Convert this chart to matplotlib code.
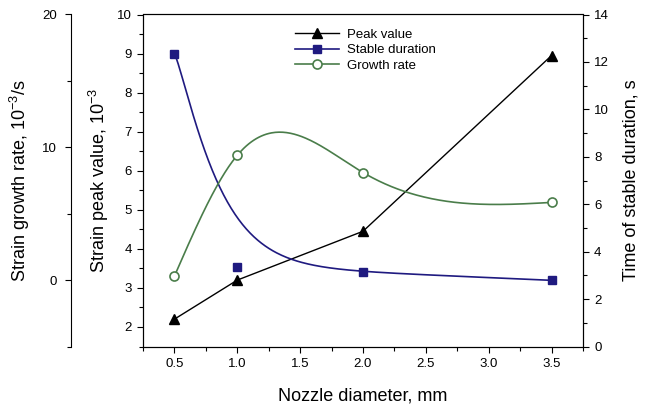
import numpy as np
import matplotlib
matplotlib.use("Agg")
from matplotlib import pyplot as plt
from matplotlib.ticker import MultipleLocator, FormatStrFormatter

plt.rcParams['font.family'] = ['Liberation Sans', 'DejaVu Sans']
plt.rcParams['mathtext.fontset'] = 'custom'
plt.rcParams['mathtext.rm'] = 'Liberation Sans'
plt.rcParams['mathtext.it'] = 'Liberation Sans:italic'
plt.rcParams['axes.linewidth'] = 0.8

# data
nozzle = np.array([0.5, 1.0, 2.0, 3.5])
peak_value = np.array([2.2, 3.2, 4.45, 8.95])        # 10^-3
stable_duration = np.array([12.35, 3.37, 3.16, 2.79])  # s
growth_rate = np.array([0.3, 9.4, 8.1, 5.85])         # 10^-3/s

# decay trend used for the stable duration curve
fit_c, fit_b, fit_a, fit_k, fit_p = 3.595, -0.23, 8.87, 3.34, 1.2

BLACK = 'black'
BLUE = '#1f1a80'
GREEN = '#4a7d4a'


def natural_spline(x, y, xs):
    n = len(x)
    h = np.diff(x)
    A = np.zeros((n, n))
    r = np.zeros(n)
    A[0, 0] = A[-1, -1] = 1
    for i in range(1, n - 1):
        A[i, i - 1] = h[i - 1]
        A[i, i] = 2 * (h[i - 1] + h[i])
        A[i, i + 1] = h[i]
        r[i] = 3 * ((y[i + 1] - y[i]) / h[i] - (y[i] - y[i - 1]) / h[i - 1])
    c = np.linalg.solve(A, r)
    b = (y[1:] - y[:-1]) / h - h * (2 * c[:-1] + c[1:]) / 3
    d = (c[1:] - c[:-1]) / (3 * h)
    idx = np.clip(np.searchsorted(x, xs) - 1, 0, n - 2)
    dx = xs - x[idx]
    return y[idx] + b[idx] * dx + c[idx] * dx ** 2 + d[idx] * dx ** 3


xs = np.linspace(nozzle[0], nozzle[-1], 300)
growth_curve = natural_spline(nozzle, growth_rate, xs)
duration_curve = fit_c + fit_b * xs + fit_a * np.exp(-fit_k * (xs - nozzle[0]) ** fit_p)

fig = plt.figure(figsize=(6.48, 4.15), dpi=100)
ax = fig.add_axes([143 / 648, 1 - 346.5 / 415, 440 / 648, 332 / 415])
ax_r = ax.twinx()
ax_g = ax.twinx()

# peak value on the inner left axis
l1, = ax.plot(nozzle, peak_value, color=BLACK, lw=1.0, marker='^', ms=7,
              mfc=BLACK, mec=BLACK, label='Peak value', zorder=3)
ax.set_xlim(0.25, 3.75)
ax.set_ylim(1.5, 10)
ax.xaxis.set_major_locator(MultipleLocator(0.5))
ax.xaxis.set_minor_locator(MultipleLocator(0.25))
ax.xaxis.set_major_formatter(FormatStrFormatter('%.1f'))
ax.yaxis.set_major_locator(MultipleLocator(1))
ax.yaxis.set_minor_locator(MultipleLocator(0.5))
ax.set_xticks([0.5, 1.0, 1.5, 2.0, 2.5, 3.0, 3.5])
ax.set_xlabel('Nozzle diameter, mm', fontsize=13, labelpad=13)
ax.set_ylabel('Strain peak value, 10$^{-3}$', fontsize=13)
ax.yaxis.set_label_coords(-0.072, 0.5)

# stable duration on the right axis
ax_r.plot(xs, duration_curve, color=BLUE, lw=1.2, zorder=2)
ax_r.plot(nozzle, stable_duration, ls='none', marker='s', ms=6,
          mfc=BLUE, mec=BLUE, zorder=3)
l2, = ax_r.plot([], [], color=BLUE, lw=1.2, marker='s', ms=6, mfc=BLUE,
                mec=BLUE, label='Stable duration')
ax_r.set_ylim(0, 14)
ax_r.yaxis.set_major_locator(MultipleLocator(2))
ax_r.yaxis.set_minor_locator(MultipleLocator(1))
ax_r.set_ylabel('Time of stable duration, s', fontsize=13)
ax_r.yaxis.set_label_coords(1.09, 0.5)

# growth rate on the outer left axis
ax_g.plot(xs, growth_curve, color=GREEN, lw=1.2, zorder=2)
ax_g.plot(nozzle, growth_rate, ls='none', marker='o', ms=6.5,
          mfc='white', mec=GREEN, mew=1.2, zorder=3)
l3, = ax_g.plot([], [], color=GREEN, lw=1.2, marker='o', ms=6.5,
                mfc='white', mec=GREEN, mew=1.2, label='Growth rate')
ax_g.set_ylim(-5, 20)
ax_g.yaxis.set_major_locator(MultipleLocator(10))
ax_g.yaxis.set_minor_locator(MultipleLocator(5))
ax_g.spines['left'].set_position(('axes', -0.1636))
ax_g.spines['left'].set_visible(True)
for s in ['right', 'top', 'bottom']:
    ax_g.spines[s].set_visible(False)
ax_g.yaxis.set_ticks_position('left')
ax_g.yaxis.set_label_position('left')
ax_g.set_ylabel('Strain growth rate, 10$^{-3}$/s', fontsize=13)
ax_g.yaxis.set_label_coords(-0.252, 0.5)

for a in (ax, ax_r, ax_g):
    a.tick_params(which='major', direction='out', length=4, width=0.8,
                  labelsize=9.5, pad=4)
    a.tick_params(which='minor', direction='out', length=3, width=0.8)
ax_g.tick_params(which='major', pad=6)

ax_g.legend(handles=[l1, l2, l3], loc='upper left',
            bbox_to_anchor=(0.325, 0.985), frameon=False, fontsize=9.5,
            handlelength=3.3, handletextpad=0.6, labelspacing=0.25,
            borderpad=0.2)

fig.savefig('out.png', dpi=100)
